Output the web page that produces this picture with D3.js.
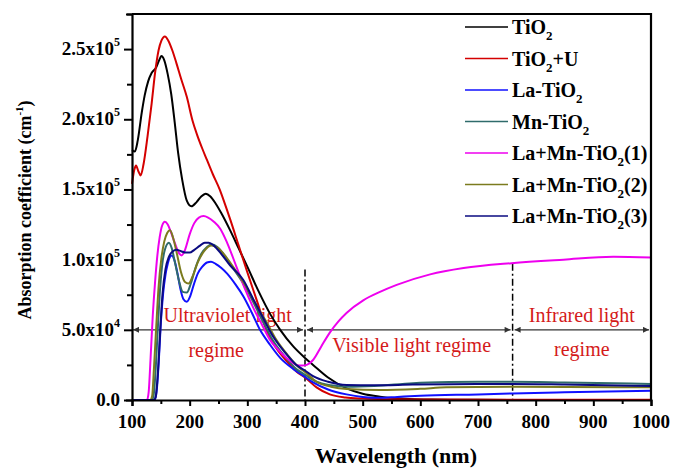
<!DOCTYPE html>
<html>
<head>
<meta charset="utf-8">
<script src="https://cdn.jsdelivr.net/npm/d3@7"></script>
<style>
  body { margin: 0; background: #fff; }
  svg { display: block; font-family: "Liberation Serif", "Times New Roman", serif; }
</style>
</head>
<body>
<svg id="chart" width="673" height="468"></svg>
<script>
// absorption coefficient, units of 1e5 cm^-1, [wavelength nm, value]
var tio2 = [[100,1.78],[105,1.77],[110,1.85],[117,2.05],[122,2.17],[128,2.27],[134,2.33],[142,2.37],[147,2.42],[151,2.45],[156,2.42],[162,2.32],[168,2.18],[174,1.98],[180,1.76],[187,1.57],[195,1.42],[203,1.38],[212,1.41],[220,1.45],[228,1.47],[236,1.45],[245,1.40],[255,1.33],[270,1.21],[285,1.08],[300,0.95],[320,0.77],[340,0.61],[357,0.5],[380,0.38],[400,0.3],[414,0.25],[440,0.16],[472,0.083],[500,0.045],[530,0.024],[560,0.012],[590,0.006],[620,0.003],[700,0.001],[1000,0]];
var tio2U = [[100,1.54],[104,1.64],[107,1.67],[111,1.63],[115,1.60],[120,1.68],[127,1.88],[134,2.11],[140,2.33],[146,2.49],[151,2.56],[157,2.59],[163,2.56],[170,2.49],[177,2.40],[185,2.29],[195,2.16],[205,1.99],[212,1.90],[222,1.79],[230,1.71],[240,1.61],[252,1.5],[260,1.41],[270,1.29],[285,1.1],[300,0.91],[318,0.69],[333,0.5],[350,0.37],[370,0.27],[386,0.2],[400,0.16],[420,0.09],[443,0.04],[470,0.018],[500,0.01],[550,0.005],[600,0.003],[1000,0.002]];
var laTio2 = [[100,0],[138,0],[141,0.02],[144,0.12],[147,0.32],[150,0.55],[154,0.76],[158,0.89],[162,0.97],[166,1.02],[169,1.03],[174,0.99],[179,0.9],[184,0.79],[189,0.72],[195,0.70],[201,0.74],[207,0.82],[214,0.9],[222,0.95],[230,0.98],[237,0.985],[245,0.97],[255,0.94],[265,0.9],[280,0.82],[293,0.74],[308,0.62],[322,0.5],[340,0.39],[357,0.3],[380,0.22],[400,0.165],[414,0.125],[440,0.075],[472,0.04],[500,0.022],[530,0.016],[560,0.022],[600,0.03],[700,0.04],[760,0.047],[850,0.055],[1000,0.066]];
var mnTio2 = [[100,0],[134,0],[137,0.02],[140,0.15],[144,0.45],[148,0.75],[152,0.95],[157,1.07],[164,1.12],[169,1.08],[175,0.97],[182,0.84],[188,0.77],[195,0.765],[202,0.83],[210,0.94],[220,1.04],[230,1.09],[238,1.11],[248,1.09],[260,1.03],[275,0.94],[293,0.83],[310,0.7],[328,0.55],[345,0.42],[365,0.31],[385,0.22],[400,0.18],[420,0.13],[445,0.105],[472,0.095],[520,0.1],[587,0.12],[650,0.128],[700,0.13],[760,0.13],[850,0.125],[1000,0.114]];
var laMn1 = [[100,0],[126,0],[129,0.06],[132,0.28],[136,0.6],[140,0.84],[144,1.03],[148,1.16],[152,1.24],[157,1.27],[162,1.25],[168,1.19],[175,1.11],[181,1.05],[186,1.03],[192,1.07],[200,1.18],[208,1.26],[216,1.3],[224,1.31],[232,1.3],[242,1.27],[253,1.22],[265,1.12],[281,0.95],[295,0.8],[310,0.66],[325,0.54],[339,0.43],[353,0.36],[368,0.3],[385,0.25],[395,0.245],[403,0.25],[414,0.285],[428,0.38],[443,0.48],[458,0.56],[472,0.62],[501,0.71],[530,0.77],[559,0.82],[617,0.895],[675,0.94],[758,0.975],[848,1.0],[935,1.02],[1000,1.015]];
var laMn2 = [[100,0],[132,0],[135,0.03],[138,0.22],[142,0.52],[146,0.8],[151,1.01],[156,1.13],[161,1.19],[166,1.21],[171,1.16],[178,1.04],[185,0.91],[192,0.84],[198,0.83],[205,0.88],[214,0.98],[225,1.06],[238,1.10],[250,1.08],[263,1.02],[280,0.92],[299,0.8],[316,0.67],[334,0.55],[350,0.43],[370,0.32],[390,0.23],[400,0.2],[420,0.13],[445,0.095],[472,0.078],[530,0.071],[600,0.08],[645,0.09],[760,0.095],[1000,0.09]];
var laMn3 = [[100,0],[138,0],[141,0.02],[145,0.2],[149,0.5],[153,0.76],[158,0.93],[164,1.02],[171,1.06],[177,1.07],[185,1.06],[193,1.05],[200,1.05],[208,1.07],[218,1.1],[226,1.12],[233,1.12],[242,1.1],[255,1.04],[270,0.96],[293,0.855],[310,0.72],[328,0.58],[345,0.45],[365,0.34],[385,0.25],[400,0.21],[414,0.17],[440,0.13],[472,0.107],[520,0.105],[587,0.11],[650,0.113],[760,0.114],[850,0.11],[1000,0.10]];

var seriesNames = ["TiO_2", "TiO_2+U", "La-TiO_2", "Mn-TiO_2", "La+Mn-TiO_2(1)", "La+Mn-TiO_2(2)", "La+Mn-TiO_2(3)"];
var seriesData = [tio2, tio2U, laTio2, mnTio2, laMn1, laMn2, laMn3];
var seriesColors = ["#000000", "#d40000", "#1010ff", "#2f6b6b", "#ee00ee", "#7b7b1e", "#0a0a80"];

var xTicks = [100, 200, 300, 400, 500, 600, 700, 800, 900, 1000];
var yTicks = [0, 0.5, 1.0, 1.5, 2.0, 2.5];
var regionEdges = [100, 400, 760, 1000];
var regionLabels = [["Ultraviolet light", "regime"], ["Visible light regime"], ["Infrared light", "regime"]];

var svg = d3.select("#chart");
var x = d3.scaleLinear().domain([100, 1000]).range([132, 651]);
var y = d3.scaleLinear().domain([0, 2.75]).range([400, 14]);

// region labels sit under the curves
var lblG = svg.append("g").attr("fill", "#d41a1a").attr("font-size", "20px");
var lblPos = [
	{cx: [x(266), x(246)], rows: [321.5, 356.5]},
	{cx: [x(585)], rows: [352]},
	{cx: [x(880), x(880)], rows: [321.5, 356]}
];
regionLabels.forEach(function (rows, i) {
	rows.forEach(function (t, j) {
		lblG.append("text").attr("x", lblPos[i].cx[j]).attr("y", lblPos[i].rows[j])
			.attr("text-anchor", "middle").text(t);
	});
});

// double arrows for the regimes
svg.append("defs").append("marker")
	.attr("id", "ah").attr("viewBox", "0 0 10 10").attr("refX", 10).attr("refY", 5)
	.attr("markerWidth", 10).attr("markerHeight", 6).attr("markerUnits", "userSpaceOnUse")
	.attr("orient", "auto-start-reverse")
	.append("path").attr("d", "M0,0L10,5L0,10Z").attr("fill", "#333");
var arrowY = y(0.5);
for (var i = 0; i < regionEdges.length - 1; i++) {
	svg.append("line")
		.attr("x1", x(regionEdges[i]) + (i === 0 ? 1 : 2)).attr("x2", x(regionEdges[i + 1]) - 2)
		.attr("y1", arrowY).attr("y2", arrowY)
		.attr("stroke", "#333").attr("stroke-width", 1.3)
		.attr("marker-start", "url(#ah)").attr("marker-end", "url(#ah)");
}
// dash-dot boundaries
[[400, 0.93], [760, 0.97]].forEach(function (b) {
	svg.append("line")
		.attr("x1", x(b[0])).attr("x2", x(b[0]))
		.attr("y1", y(b[1])).attr("y2", y(0))
		.attr("stroke", "#000").attr("stroke-width", 1.5)
		.attr("stroke-dasharray", "7,3,2,3");
});

// curves
var line = d3.line()
	.x(function (d) { return x(d[0]); })
	.y(function (d) { return y(d[1]); })
	.curve(d3.curveMonotoneX);
svg.append("g").attr("fill", "none").attr("stroke-width", 2)
	.selectAll("path").data(seriesData).enter().append("path")
	.attr("stroke", function (d, i) { return seriesColors[i]; })
	.attr("d", line);

// axes
var xAxis = svg.append("g").attr("transform", "translate(0,400)")
	.call(d3.axisBottom(x).tickValues(d3.range(100, 1001, 50)).tickSize(6).tickFormat(""));
var yAxis = svg.append("g").attr("transform", "translate(132,0)")
	.call(d3.axisLeft(y).tickValues(d3.range(0, 2.751, 0.25)).tickSize(6).tickFormat(""));
[xAxis, yAxis].forEach(function (a) {
	a.select(".domain").attr("stroke-width", 2.2);
	a.selectAll(".tick line").attr("stroke-width", 2);
});
yAxis.selectAll(".tick line").attr("x2", function (d) {
	return Math.abs(d * 2 - Math.round(d * 2)) < 1e-6 ? -8 : -5;
});
xAxis.selectAll(".tick line").attr("y2", function (d) { return d % 100 === 0 ? 6 : 4; });
// frame top and right
svg.append("path").attr("d", "M132,14H651V400").attr("fill", "none")
	.attr("stroke", "#000").attr("stroke-width", 2.2);

// tick labels
var tickG = svg.append("g").attr("font-weight", "bold").attr("font-size", "19px");
xTicks.forEach(function (t) {
	tickG.append("text").attr("x", x(t)).attr("y", 428).attr("text-anchor", "middle").text(t);
});
yTicks.forEach(function (t) {
	var tx = tickG.append("text").attr("x", 120).attr("y", y(t) + 6).attr("text-anchor", "end");
	if (t === 0) { tx.text("0.0"); return; }
	var e = Math.floor(Math.log10(t * 1e5)), m = t * 1e5 / Math.pow(10, e);
	tx.append("tspan").text(m.toFixed(1) + "x10");
	tx.append("tspan").attr("font-size", "12px").attr("dy", -9).text(e);
});

// axis titles
svg.append("text").attr("x", 396).attr("y", 463).attr("text-anchor", "middle")
	.attr("font-weight", "bold").attr("font-size", "22px").text("Wavelength (nm)");
var yt = svg.append("text").attr("transform", "translate(31,210) rotate(-90)")
	.attr("text-anchor", "middle").attr("font-weight", "bold").attr("font-size", "18px");
yt.append("tspan").text("Absorption coefficient (cm");
yt.append("tspan").attr("font-size", "11px").attr("dy", -8).text("-1");
yt.append("tspan").attr("dy", 8).text(")");

// legend
var leg = svg.append("g").attr("font-weight", "bold").attr("font-size", "20px");
seriesNames.forEach(function (name, i) {
	var ly = 27 + i * 31.5;
	leg.append("line").attr("x1", 465).attr("x2", 508).attr("y1", ly).attr("y2", ly)
		.attr("stroke", seriesColors[i]).attr("stroke-width", 1.6);
	var parts = name.split("_");
	var tx = leg.append("text").attr("x", 512).attr("y", ly + 7);
	tx.append("tspan").text(parts[0]);
	if (parts.length > 1) {
		tx.append("tspan").attr("font-size", "13px").attr("dy", 6).text(parts[1].charAt(0));
		tx.append("tspan").attr("dy", -6).text(parts[1].slice(1));
	}
});
</script>
</body>
</html>
